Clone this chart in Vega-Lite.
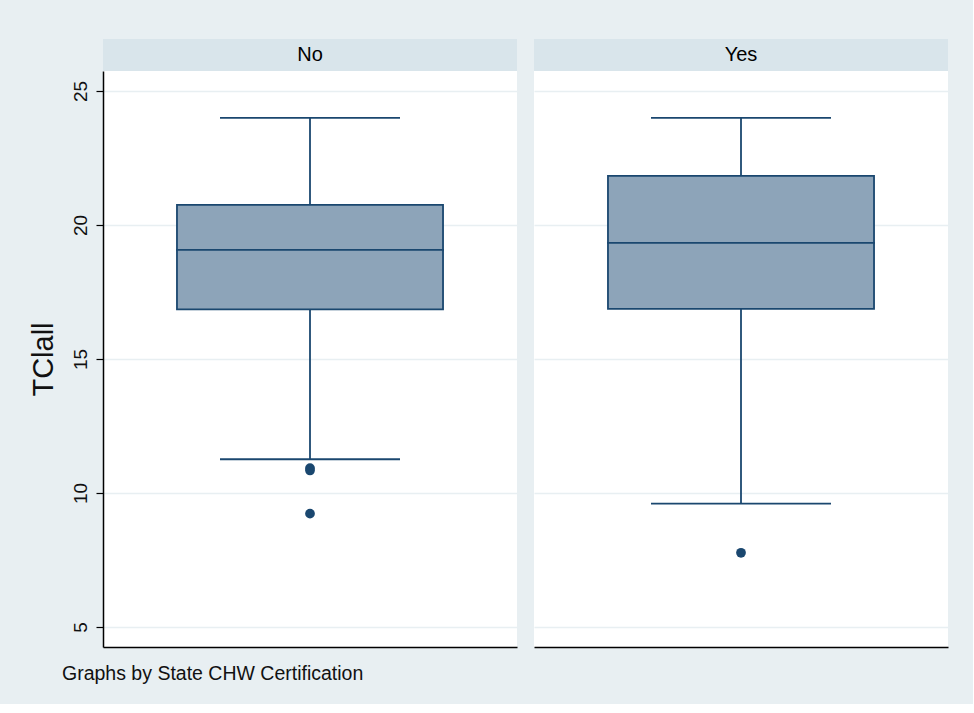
{
  "$schema": "https://vega.github.io/schema/vega-lite/v6.json",
  "background": "#e8eff2",
  "padding": {"left": 29, "top": 39, "right": 25, "bottom": 20},
  "datasets": {
    "boxes": [
      {"cert": "No", "lo": 11.26, "q1": 16.85, "median": 19.07, "q3": 20.75, "hi": 24.0},
      {"cert": "Yes", "lo": 9.6, "q1": 16.87, "median": 19.33, "q3": 21.83, "hi": 24.0}
    ],
    "outliers": [
      {"cert": "No", "TClall": 10.93},
      {"cert": "No", "TClall": 10.84},
      {"cert": "No", "TClall": 9.23},
      {"cert": "Yes", "TClall": 7.77}
    ],
    "headers": [
      {"cert": "No"},
      {"cert": "Yes"}
    ]
  },
  "config": {
    "font": "Liberation Sans",
    "view": {"stroke": null},
    "concat": {"spacing": 17}
  },
  "title": {
    "text": "Graphs by State CHW Certification",
    "orient": "bottom",
    "anchor": "start",
    "font": "Liberation Sans",
    "fontSize": 19.5,
    "fontWeight": "normal",
    "color": "#111111",
    "offset": 18,
    "dx": 33
  },
  "hconcat": [
    {
      "vconcat": [
        {
          "width": 414,
          "height": 32,
          "view": {"fill": "#d9e5eb", "stroke": null},
          "data": {"name": "headers"},
          "transform": [{"filter": "datum.cert == 'No'"}],
          "mark": {"type": "text", "fontSize": 20, "font": "Liberation Sans", "color": "#000000", "baseline": "middle"},
          "encoding": {"text": {"field": "cert"}}
        },
        {
          "width": 414,
          "height": 576,
          "view": {"fill": "#ffffff", "stroke": null},
          "encoding": {
            "x": {"field": "cert", "type": "nominal", "scale": {"paddingInner": 0, "paddingOuter": 0.278}, "axis": {"labels": false, "ticks": false, "title": null, "domain": true, "domainColor": "#000000", "domainWidth": 1.5, "grid": false}}
          },
          "layer": [
            {
              "data": {"name": "boxes"},
              "transform": [{"filter": "datum.cert == 'No'"}],
              "mark": {"type": "rule", "color": "#1a476f", "strokeWidth": 1.8},
              "encoding": {
                "y": {"field": "lo", "type": "quantitative", "scale": {"domain": [4.254, 25.746], "nice": false, "zero": false},
                  "axis": {"values": [5, 10, 15, 20, 25], "labelAngle": -90, "labelAlign": "center", "labelBaseline": "alphabetic", "labelFontSize": 19, "labelColor": "#111111", "labelPadding": 10, "tickSize": 7, "tickColor": "#000000", "tickWidth": 1.2, "domainColor": "#000000", "domainWidth": 1.5, "gridColor": "#e8eff2", "gridWidth": 1.5, "title": "TClall", "titleFontSize": 29, "titleFontWeight": "normal", "titleColor": "#111111", "titlePadding": 13}},
                "y2": {"field": "hi"}
              }
            },
            {
              "data": {"name": "boxes"},
              "transform": [{"filter": "datum.cert == 'No'"}],
              "mark": {"type": "bar", "fill": "#8da4b9", "stroke": "#1a476f", "strokeWidth": 1.8},
              "encoding": {"y": {"field": "q1", "type": "quantitative"}, "y2": {"field": "q3"}}
            },
            {
              "data": {"name": "boxes"},
              "transform": [{"filter": "datum.cert == 'No'"}],
              "mark": {"type": "tick", "color": "#1a476f", "thickness": 1.8, "size": 268, "opacity": 1},
              "encoding": {"y": {"field": "median", "type": "quantitative"}}
            },
            {
              "data": {"name": "boxes"},
              "transform": [{"filter": "datum.cert == 'No'"}],
              "mark": {"type": "tick", "color": "#1a476f", "thickness": 1.8, "size": 180, "opacity": 1},
              "encoding": {"y": {"field": "lo", "type": "quantitative"}}
            },
            {
              "data": {"name": "boxes"},
              "transform": [{"filter": "datum.cert == 'No'"}],
              "mark": {"type": "tick", "color": "#1a476f", "thickness": 1.8, "size": 180, "opacity": 1},
              "encoding": {"y": {"field": "hi", "type": "quantitative"}}
            },
            {
              "data": {"name": "outliers"},
              "transform": [{"filter": "datum.cert == 'No'"}],
              "mark": {"type": "point", "filled": true, "shape": "circle", "color": "#1a476f", "size": 95, "opacity": 1},
              "encoding": {"y": {"field": "TClall", "type": "quantitative"}}
            }
          ]
        }
      ],
      "spacing": 0,
      "bounds": "flush"
    },
    {
      "vconcat": [
        {
          "width": 414,
          "height": 32,
          "view": {"fill": "#d9e5eb", "stroke": null},
          "data": {"name": "headers"},
          "transform": [{"filter": "datum.cert == 'Yes'"}],
          "mark": {"type": "text", "fontSize": 20, "font": "Liberation Sans", "color": "#000000", "baseline": "middle"},
          "encoding": {"text": {"field": "cert"}}
        },
        {
          "width": 414,
          "height": 576,
          "view": {"fill": "#ffffff", "stroke": null},
          "encoding": {
            "x": {"field": "cert", "type": "nominal", "scale": {"paddingInner": 0, "paddingOuter": 0.278}, "axis": {"labels": false, "ticks": false, "title": null, "domain": true, "domainColor": "#000000", "domainWidth": 1.5, "grid": false}}
          },
          "layer": [
            {
              "data": {"name": "boxes"},
              "transform": [{"filter": "datum.cert == 'Yes'"}],
              "mark": {"type": "rule", "color": "#1a476f", "strokeWidth": 1.8},
              "encoding": {
                "y": {"field": "lo", "type": "quantitative", "scale": {"domain": [4.254, 25.746], "nice": false, "zero": false},
                  "axis": {"values": [5, 10, 15, 20, 25], "labels": false, "ticks": false, "domain": false, "gridColor": "#e8eff2", "gridWidth": 1.5, "title": null}},
                "y2": {"field": "hi"}
              }
            },
            {
              "data": {"name": "boxes"},
              "transform": [{"filter": "datum.cert == 'Yes'"}],
              "mark": {"type": "bar", "fill": "#8da4b9", "stroke": "#1a476f", "strokeWidth": 1.8},
              "encoding": {"y": {"field": "q1", "type": "quantitative"}, "y2": {"field": "q3"}}
            },
            {
              "data": {"name": "boxes"},
              "transform": [{"filter": "datum.cert == 'Yes'"}],
              "mark": {"type": "tick", "color": "#1a476f", "thickness": 1.8, "size": 268, "opacity": 1},
              "encoding": {"y": {"field": "median", "type": "quantitative"}}
            },
            {
              "data": {"name": "boxes"},
              "transform": [{"filter": "datum.cert == 'Yes'"}],
              "mark": {"type": "tick", "color": "#1a476f", "thickness": 1.8, "size": 180, "opacity": 1},
              "encoding": {"y": {"field": "lo", "type": "quantitative"}}
            },
            {
              "data": {"name": "boxes"},
              "transform": [{"filter": "datum.cert == 'Yes'"}],
              "mark": {"type": "tick", "color": "#1a476f", "thickness": 1.8, "size": 180, "opacity": 1},
              "encoding": {"y": {"field": "hi", "type": "quantitative"}}
            },
            {
              "data": {"name": "outliers"},
              "transform": [{"filter": "datum.cert == 'Yes'"}],
              "mark": {"type": "point", "filled": true, "shape": "circle", "color": "#1a476f", "size": 95, "opacity": 1},
              "encoding": {"y": {"field": "TClall", "type": "quantitative"}}
            }
          ]
        }
      ],
      "spacing": 0,
      "bounds": "flush"
    }
  ]
}
